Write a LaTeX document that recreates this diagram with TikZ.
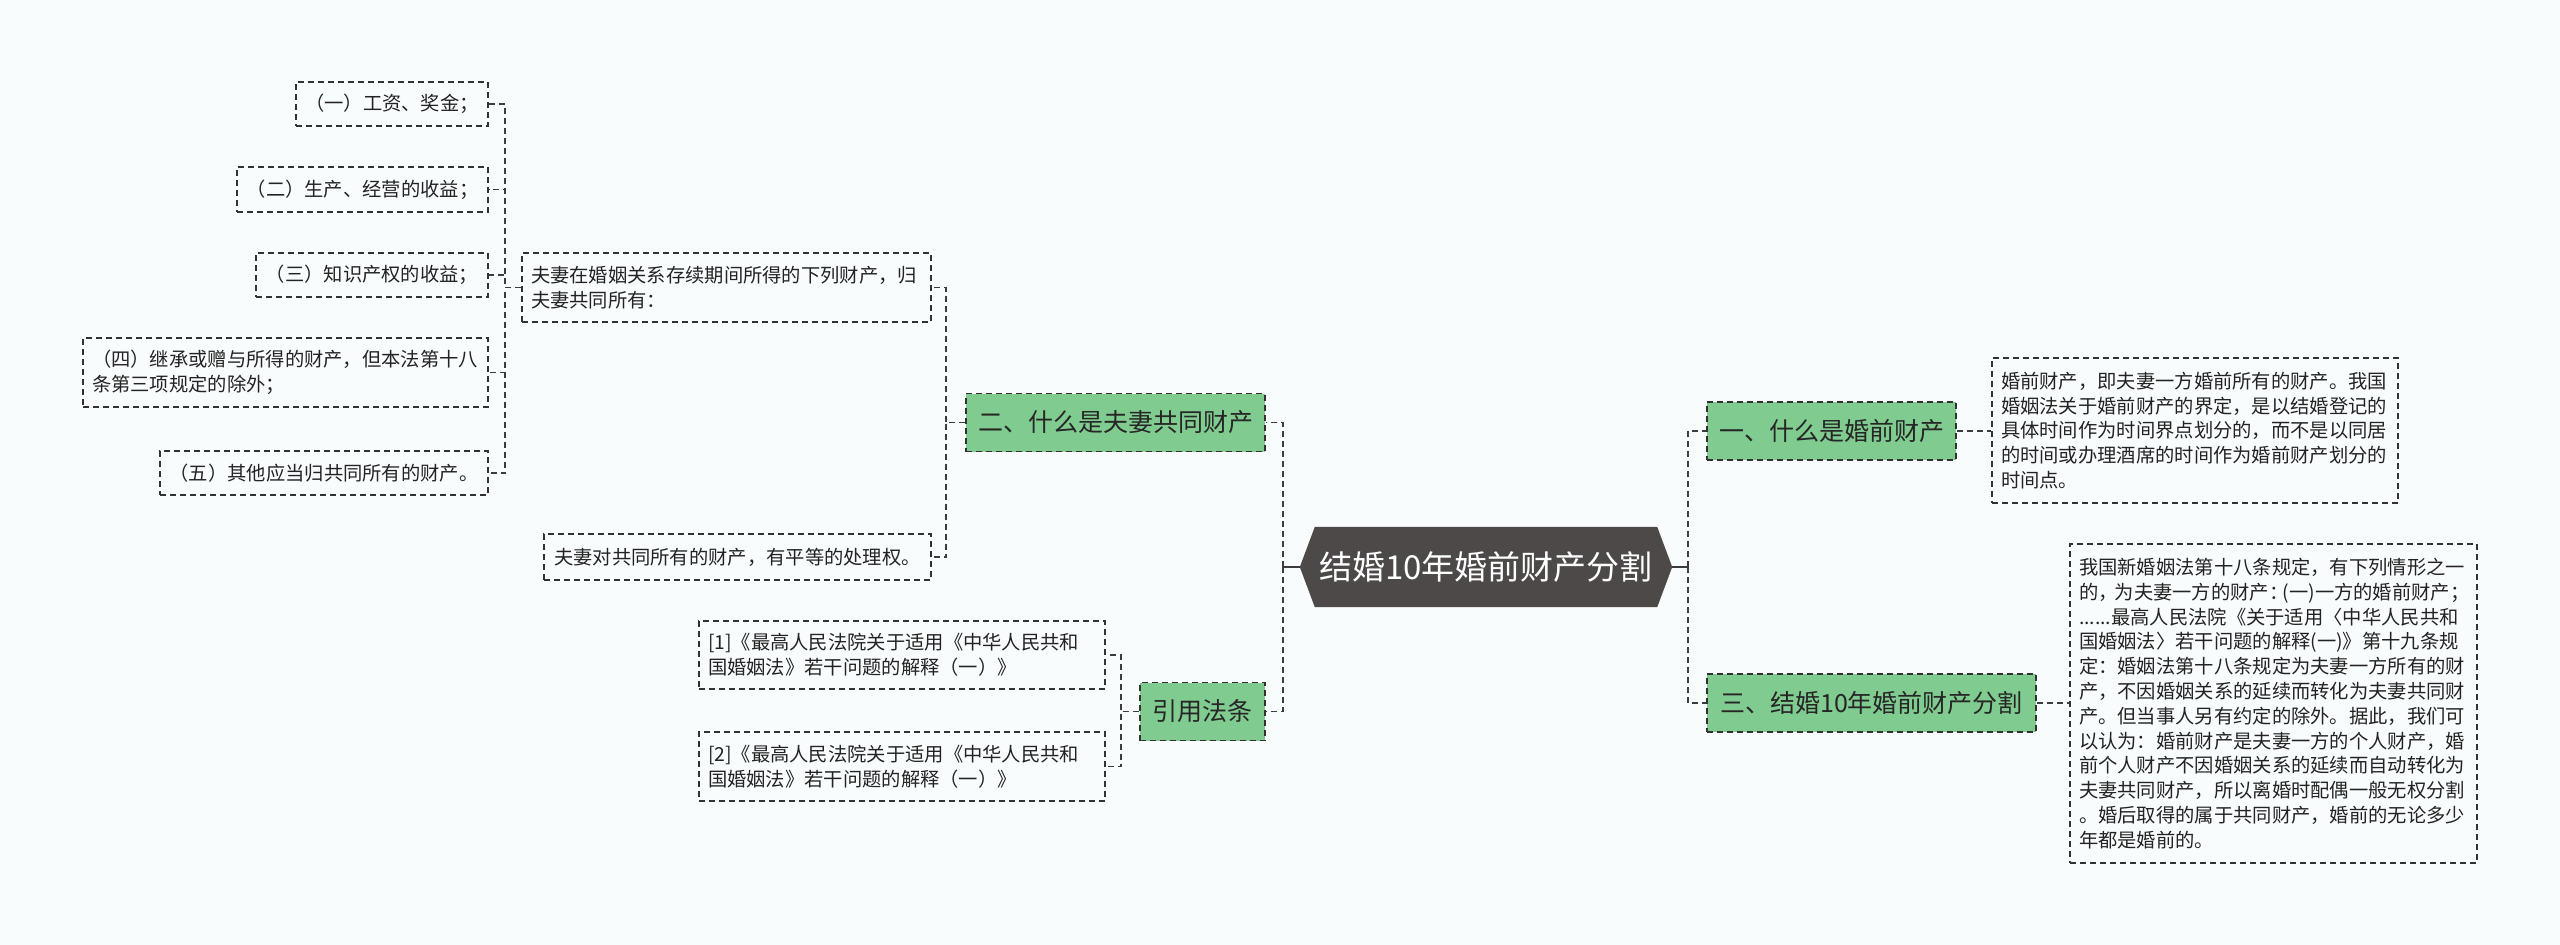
\documentclass[tikz,border=0pt]{standalone}
\usepackage{fontspec}
\setmainfont{Noto Sans CJK SC}
\usetikzlibrary{backgrounds,calc}
\definecolor{bgc}{RGB}{249,252,253}
\definecolor{grn}{RGB}{128,203,143}
\definecolor{dk}{RGB}{78,73,73}
\definecolor{bord}{RGB}{50,50,50}
\definecolor{txt}{RGB}{35,35,35}
\definecolor{lnc}{RGB}{60,60,60}
\tikzset{
  box/.style={draw=bord, line width=1.8pt, dash pattern=on 6pt off 4pt, text=txt,
    inner xsep=9pt, inner ysep=0pt, font=\fontsize{19.3}{24.8}\selectfont},
  single/.style 2 args={box, align=center, minimum width=#1, minimum height=#2},
  multi/.style 2 args={box, align=left, text width=#1, minimum height=#2},
  gnode/.style={draw=bord, fill=grn, line width=1.8pt, dash pattern=on 6pt off 4pt,
    text=black!85, font=\fontsize{25}{30}\selectfont, inner sep=0pt,
    minimum width=#1, minimum height=58pt},
  ctrnode/.style={text=white, font=\fontsize{33}{38}\selectfont, inner sep=0pt,
    minimum width=372pt, minimum height=80pt},
  conn/.style={draw=lnc, line width=1.9pt, dash pattern=on 6pt off 4pt},
  solidc/.style={draw=lnc, line width=1.9pt}
}
\begin{document}
\begin{tikzpicture}[x=1pt,y=-1pt]
\begin{scope}[on background layer]
\fill[bgc] (0,0) rectangle (2560,945);
\end{scope}
\useasboundingbox (0,0) rectangle (2560,945);

% left leaves
\node[single={192pt}{44pt}] (c1) at (392,104) {（一）工资、奖金；};
\node[single={251pt}{45pt}] (c2) at (362.5,189.5) {（二）生产、经营的收益；};
\node[single={232pt}{44pt}] (c3) at (372,275) {（三）知识产权的收益；};
\node[multi={387pt}{69pt}] (c4) at (285.5,372.5) {（四）继承或赠与所得的财产，但本法第十八\\条第三项规定的除外；};
\node[single={328pt}{44pt}] (c5) at (324,473) {（五）其他应当归共同所有的财产。};

\node[multi={391pt}{69pt}] (p1) at (726.5,287.5) {夫妻在婚姻关系存续期间所得的下列财产，归\\夫妻共同所有：};
\node[single={387pt}{46pt}] (p2) at (737.5,557) {夫妻对共同所有的财产，有平等的处理权。};

\node[gnode=299pt] (g2) at (1115.5,422.5) {二、什么是夫妻共同财产};

\node[multi={388pt}{68pt}] (r1) at (902,655) {[1]《最高人民法院关于适用《中华人民共和\\国婚姻法》若干问题的解释（一）》};
\node[multi={388pt}{69pt}] (r2) at (902,766.5) {[2]《最高人民法院关于适用《中华人民共和\\国婚姻法》若干问题的解释（一）》};
\node[gnode=125pt] (g4) at (1202.5,711.5) {引用法条};

% centre
\node[ctrnode] (ctr) at (1486,567) {结婚10年婚前财产分割};
\begin{scope}[on background layer]
\fill[dk] (ctr.west) -- ($(ctr.north west)+(15,0)$) -- ($(ctr.north east)+(-15,0)$) -- (ctr.east)
  -- ($(ctr.south east)+(-15,0)$) -- ($(ctr.south west)+(15,0)$) -- cycle;
\end{scope}

% right
\node[gnode=249pt] (g1) at (1831.5,431) {一、什么是婚前财产};
\node[multi={388pt}{145pt}] (t1) at (2195,430.5) {婚前财产，即夫妻一方婚前所有的财产。我国\\婚姻法关于婚前财产的界定，是以结婚登记的\\具体时间作为时间界点划分的，而不是以同居\\的时间或办理酒席的时间作为婚前财产划分的\\时间点。};
\node[gnode=329pt] (g3) at (1871.5,703) {三、结婚10年婚前财产分割};
\node[multi={389pt}{319pt}] (t3) at (2273.5,703.5) {我国新婚姻法第十八条规定，有下列情形之一\\的，\kern-0.15em 为夫妻一方的财产：\kern-0.3em(一)一方的婚前财产；\\......最高人民法院《关于适用〈中华人民共和\\国婚姻法〉若干问题的解释(一)》第十九条规\\定：婚姻法第十八条规定为夫妻一方所有的财\\产，不因婚姻关系的延续而转化为夫妻共同财\\产。但当事人另有约定的除外。据此，我们可\\以认为：婚前财产是夫妻一方的个人财产，婚\\前个人财产不因婚姻关系的延续而自动转化为\\夫妻共同财产，所以离婚时配偶一般无权分割\\。婚后取得的属于共同财产，婚前的无论多少\\年都是婚前的。};

% connectors
\draw[conn] (p1.west) -- ++(-16,0) |- (c1.east);
\draw[conn] (p1.west) -- ++(-16,0) |- (c2.east);
\draw[conn] (p1.west) -- ++(-16,0) |- (c3.east);
\draw[conn] (p1.west) -- ++(-16,0) |- (c4.east);
\draw[conn] (p1.west) -- ++(-16,0) |- (c5.east);

\draw[conn] (g2.west) -- ++(-19,0) |- (p1.east);
\draw[conn] (g2.west) -- ++(-19,0) |- (p2.east);

\draw[conn] (g4.west) -- ++(-18,0) |- (r1.east);
\draw[conn] (g4.west) -- ++(-18,0) |- (r2.east);

\draw[solidc] (ctr.west) -- ++(-17,0) coordinate (lb);
\draw[conn] (lb) |- (g2.east);
\draw[conn] (lb) |- (g4.east);

\draw[solidc] (ctr.east) -- ++(16,0) coordinate (rb);
\draw[conn] (rb) |- (g1.west);
\draw[conn] (rb) |- (g3.west);

\draw[conn] (g1.east) -- (g1.east -| t1.west);
\draw[conn] (g3.east) -- (g3.east -| t3.west);
\end{tikzpicture}
\end{document}
